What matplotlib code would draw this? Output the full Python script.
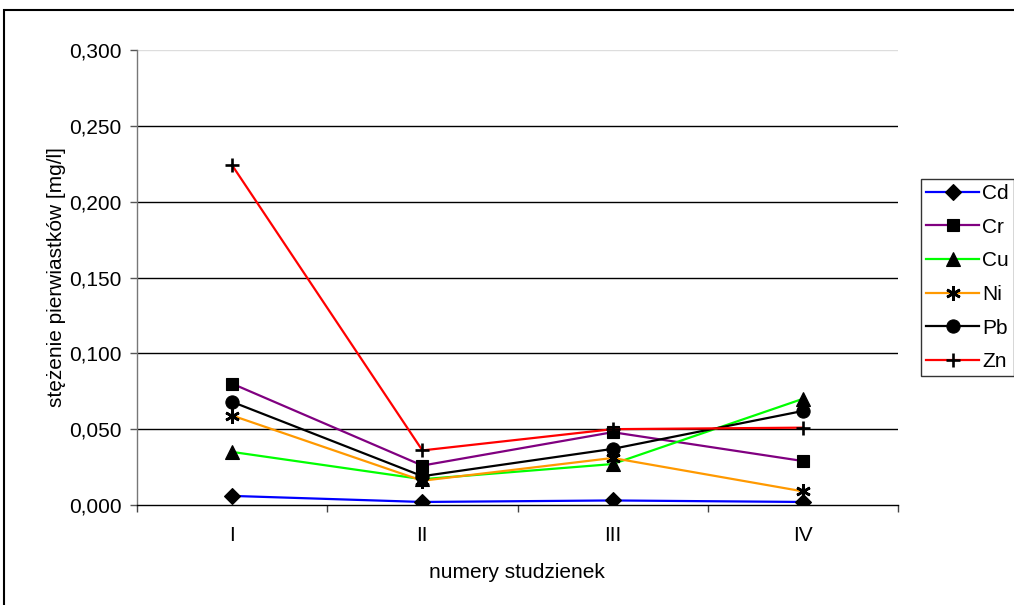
import matplotlib
matplotlib.use("Agg")
import matplotlib.pyplot as plt
from matplotlib.patches import Rectangle

plt.rcParams['font.family'] = ['Liberation Sans', 'DejaVu Sans']

# well numbers and measured concentrations [mg/l]
wells = ["I", "II", "III", "IV"]
cd = [0.006, 0.002, 0.003, 0.002]
cr = [0.080, 0.026, 0.048, 0.029]
cu = [0.035, 0.017, 0.027, 0.070]
ni = [0.059, 0.016, 0.031, 0.009]
pb = [0.068, 0.019, 0.037, 0.062]
zn = [0.224, 0.036, 0.050, 0.051]
y_ticks = [0.0, 0.05, 0.10, 0.15, 0.20, 0.25, 0.30]
y_tick_labels = ["0,000", "0,050", "0,100", "0,150", "0,200", "0,250", "0,300"]

FS = 15
W, H = 1014, 605
fig = plt.figure(figsize=(W / 100, H / 100), dpi=100)
ax = fig.add_axes([137 / W, 1 - 505 / H, (898 - 137) / W, (505 - 50) / H])

x = list(range(len(wells)))
series = [
    ("Cd", cd, "#0000FF", "D", 8),
    ("Cr", cr, "#800080", "s", 9),
    ("Cu", cu, "#00FF00", "^", 10),
    ("Ni", ni, "#FF9900", (6, 2, 0), 10.5),
    ("Pb", pb, "#000000", "o", 9.5),
    ("Zn", zn, "#FF0000", "+", 10.5),
]
handles = []
for name, vals, col, mk, ms in series:
    h, = ax.plot(x, vals, color=col, lw=1.6, marker=mk, markersize=ms,
                 markerfacecolor="black", markeredgecolor="black",
                 markeredgewidth=1.9 if mk in ("+", (6, 2, 0)) else 0.8,
                 label=name, zorder=3)
    handles.append(h)

ax.set_xlim(-0.5, len(wells) - 0.5)
ax.set_ylim(0, 0.30)

# category boundaries carry the ticks, labels sit on the category centres
ax.set_xticks([i - 0.5 for i in range(len(wells) + 1)])
ax.set_xticklabels([])
ax.set_xticks(x, minor=True)
ax.set_xticklabels(wells, minor=True, fontsize=FS)
ax.tick_params(axis="x", which="major", direction="out", length=5, width=1, color="#444444")
ax.tick_params(axis="x", which="minor", length=0, pad=15)

ax.set_yticks(y_ticks)
ax.set_yticklabels(y_tick_labels, fontsize=FS)
ax.tick_params(axis="y", direction="out", length=5, width=1, color="#555555", pad=6)

for yv in y_ticks[1:]:
    ax.axhline(yv, color="#000000" if yv < 0.29 else "#dddddd", lw=1.0, zorder=1)

for s in ("top", "right"):
    ax.spines[s].set_visible(False)
ax.spines["left"].set_color("#777777")
ax.spines["bottom"].set_color("#000000")
ax.spines["left"].set_linewidth(1.0)
ax.spines["bottom"].set_linewidth(1.0)

fig.text(56 / W, 1 - 277.5 / H, "stężenie pierwiastków [mg/l]", rotation=90,
         ha="center", va="center", fontsize=FS)
fig.text(517 / W, 1 - 573 / H, "numery studzienek", ha="center", va="center", fontsize=FS)

leg = fig.legend(handles=handles, loc="upper left", bbox_to_anchor=(921 / W, 1 - 179 / H),
                 fontsize=FS, frameon=True, fancybox=False, shadow=False,
                 handlelength=2.55, handletextpad=0.15, labelspacing=0.7,
                 borderpad=0.25, borderaxespad=0)
leg.get_frame().set_edgecolor("black")
leg.get_frame().set_linewidth(1.0)

# outer chart frame
fig.add_artist(Rectangle((4 / W, -0.1), 1.2, 1 - 10 / H + 0.1, transform=fig.transFigure,
                         fill=False, edgecolor="black", lw=1.5, clip_on=False))

fig.savefig("out.png", dpi=100, facecolor="white")
